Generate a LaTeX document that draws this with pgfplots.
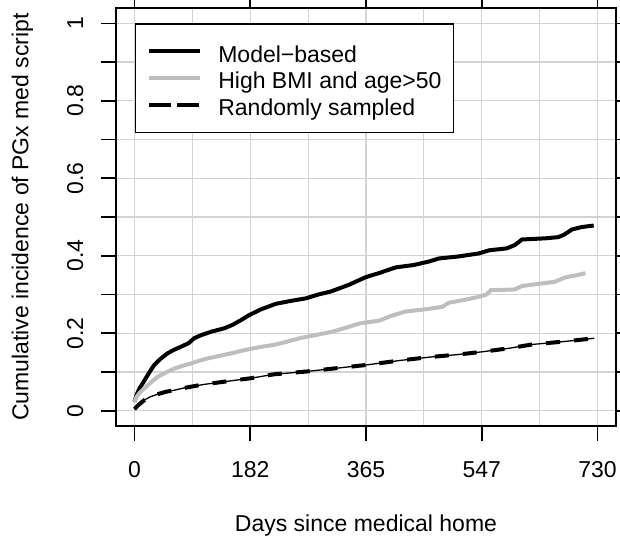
\documentclass[border=0pt]{standalone}
\usepackage{pgfplots}
\pgfplotsset{compat=1.18}
\usepackage{fontspec}
\setmainfont{Liberation Sans}

\definecolor{gridgray}{HTML}{D3D3D3}
\definecolor{bmigray}{HTML}{BEBEBE}

% Cumulative incidence curves (days, proportion)
\pgfplotstableread{
day inc
0 0.023
3 0.040
8 0.058
16 0.079
23 0.098
31 0.118
41 0.134
52 0.148
62 0.157
73 0.165
85 0.174
94 0.187
105 0.195
121 0.204
142 0.213
155 0.222
168 0.234
181 0.247
200 0.262
223 0.276
245 0.283
270 0.290
290 0.300
310 0.308
338 0.325
365 0.345
385 0.355
412 0.370
440 0.376
464 0.385
480 0.393
510 0.398
543 0.406
559 0.414
587 0.419
600 0.428
611 0.442
648 0.445
668 0.448
677 0.454
690 0.468
705 0.474
724 0.478
}\modelbased

\pgfplotstableread{
day inc
0 0.023
3 0.035
8 0.046
16 0.058
25 0.072
37 0.088
50 0.099
63 0.109
76 0.116
89 0.122
102 0.129
115 0.135
135 0.142
152 0.148
170 0.155
184 0.160
200 0.165
220 0.170
240 0.178
260 0.187
285 0.195
312 0.204
335 0.215
354 0.225
370 0.229
385 0.232
405 0.245
427 0.256
460 0.262
485 0.268
496 0.279
520 0.286
543 0.294
555 0.300
562 0.311
600 0.313
611 0.322
640 0.328
663 0.333
679 0.344
695 0.349
711 0.355
}\highbmi

\pgfplotstableread{
day inc
0 0.004
5 0.013
10 0.020
16 0.028
25 0.036
37 0.043
50 0.049
63 0.053
76 0.058
89 0.062
110 0.068
142 0.075
184 0.084
220 0.094
270 0.101
320 0.110
365 0.118
420 0.130
469 0.139
510 0.145
548 0.152
590 0.161
627 0.171
680 0.179
725 0.187
}\randomsamp

\begin{document}
\begin{tikzpicture}
\useasboundingbox (-58pt,-55.4pt) rectangle (252pt,213.1pt);
\begin{axis}[
  at={(0pt,0pt)}, anchor=south west,
  scale only axis,
  width=250pt, height=209.2pt,
  xmin=-29.2, xmax=759.2,
  ymin=-0.04, ymax=1.04,
  font=\fontsize{11.5}{13.8}\selectfont,
  /pgf/number format/assume math mode=true,
  axis line style={line width=0.8pt},
  tick style={line width=0.8pt, black},
  tick align=outside,
  major tick length=7.5pt,
  minor tick length=7.5pt,
  xtick={0,182.5,365,547.5,730},
  xticklabels={0,182,365,547,730},
  minor xtick={91.25,273.75,456.25,638.75},
  minor x tick style={draw=none},
  ytick={0,0.1,0.2,0.3,0.4,0.5,0.6,0.7,0.8,0.9,1},
  yticklabels={0,,0.2,,0.4,,0.6,,0.8,,1},
  grid=both,
  major grid style={gridgray, line width=0.6pt},
  minor grid style={gridgray, line width=0.6pt},
  xticklabel style={anchor=base},
  xticklabel shift=18pt,
  yticklabel style={rotate=90, anchor=base},
  yticklabel shift=9pt,
  xlabel={Days since medical home},
  ylabel={Cumulative incidence of PGx med script},
  xlabel style={at={(axis description cs:0.5,-0.2505)}, anchor=base},
  ylabel style={at={(axis description cs:-0.175,0.5)}, anchor=base, rotate=0},
  legend cell align=left,
  legend image code/.code={
    \path (0pt,0pt) -- (25.5pt,0pt);
    \draw[#1] (4pt,0pt) -- (25.5pt,0pt);
  },
  legend style={
    at={(axis cs:0,1)}, anchor=north west,
    draw=black, line width=0.8pt, fill=white,
    inner xsep=6pt, inner ysep=8.1pt,
    row sep=2.45pt,
    nodes={inner sep=0pt, text height=10.85pt, text depth=0.15pt},
    /tikz/every odd column/.append style={column sep=8pt},
  },
]
\addplot[black, line width=2pt] table[x=day, y=inc] {\modelbased};
\addlegendentry{Model\textminus based}
\addplot[bmigray, line width=2pt] table[x=day, y=inc] {\highbmi};
\addlegendentry{High BMI and age>50}
\addplot[black, line width=0.65pt, forget plot] table[x=day, y=inc] {\randomsamp};
\addplot[black, line width=2pt, dash pattern=on 7pt off 7pt] table[x=day, y=inc] {\randomsamp};
\addlegendentry{Randomly sampled}
\end{axis}
\end{tikzpicture}
\end{document}
